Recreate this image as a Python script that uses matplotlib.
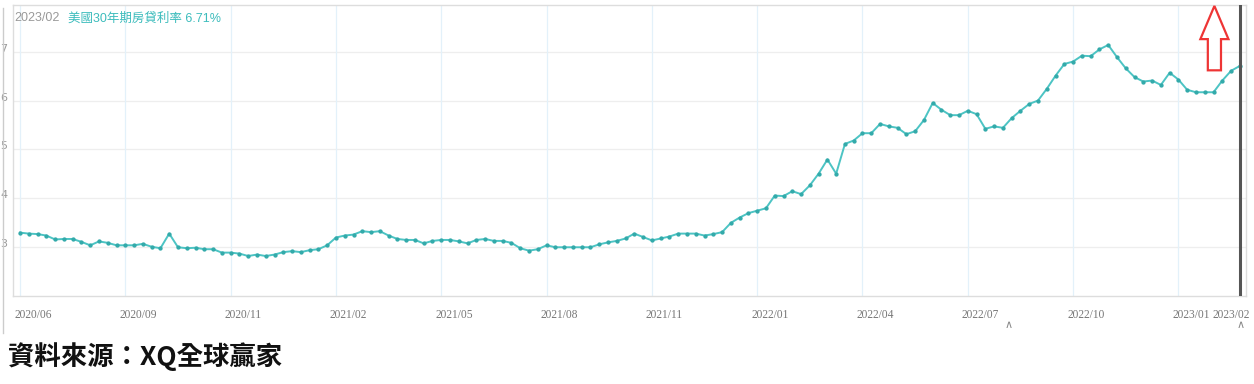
import numpy as np
import matplotlib.pyplot as plt
from matplotlib.patches import FancyArrow
from matplotlib.lines import Line2D
from matplotlib.transforms import ScaledTranslation

# weekly 30y mortgage rate (2020/06 .. 2023/02)
rates = [
    3.29, 3.27, 3.26, 3.23, 3.15, 3.16, 3.16, 3.10, 3.03, 3.11,
    3.08, 3.03, 3.03, 3.03, 3.06, 3.00, 2.97, 3.27, 2.99, 2.97,
    2.98, 2.95, 2.95, 2.88, 2.88, 2.86, 2.81, 2.84, 2.81, 2.84,
    2.89, 2.91, 2.89, 2.93, 2.95, 3.03, 3.19, 3.23, 3.25, 3.32,
    3.30, 3.32, 3.23, 3.16, 3.14, 3.14, 3.07, 3.12, 3.14, 3.14,
    3.11, 3.07, 3.14, 3.16, 3.12, 3.12, 3.08, 2.97, 2.92, 2.95,
    3.03, 2.99, 2.99, 2.99, 2.99, 2.99, 3.05, 3.09, 3.12, 3.17,
    3.27, 3.20, 3.13, 3.17, 3.21, 3.27, 3.27, 3.27, 3.23, 3.26,
    3.30, 3.49, 3.60, 3.69, 3.74, 3.79, 4.05, 4.04, 4.14, 4.08,
    4.26, 4.50, 4.79, 4.50, 5.11, 5.18, 5.33, 5.33, 5.52, 5.47,
    5.44, 5.31, 5.37, 5.60, 5.95, 5.81, 5.70, 5.70, 5.79, 5.72,
    5.42, 5.47, 5.44, 5.64, 5.79, 5.93, 6.00, 6.24, 6.51, 6.75,
    6.80, 6.92, 6.91, 7.05, 7.14, 6.89, 6.66, 6.48, 6.39, 6.41,
    6.32, 6.57, 6.43, 6.22, 6.17, 6.17, 6.17, 6.41, 6.61, 6.71,
]
tick_idx = [0, 12, 24, 36, 48, 60, 72, 84, 96, 108, 120, 132, 139]
tick_labels = ['2020/06', '2020/09', '2020/11', '2021/02', '2021/05', '2021/08',
               '2021/11', '2022/01', '2022/04', '2022/07', '2022/10', '2023/01',
               '2023/02']
y_ticks = [3, 4, 5, 6, 7]

TEAL = '#4cc4c4'
x = np.arange(len(rates))
last = len(rates) - 1

fig = plt.figure(figsize=(12.54, 3.84), dpi=100)
ax = fig.add_axes([13 / 1254, 1 - 296 / 384, 1233 / 1254, 291 / 384])

ax.plot(x, rates, color=TEAL, lw=1.4, marker='o', ms=2.1,
        mfc='#33aaaa', mec='#33aaaa', zorder=3)

ax.set_xlim(-0.8, 139.7)
ax.set_ylim(1.99, 7.96)

# grid
for v in y_ticks:
    ax.axhline(v, color='#eeeeee', lw=0.9, zorder=0)
for i in tick_idx[:-1]:
    ax.axvline(i, color='#e3f1fa', lw=0.9, zorder=0)

# cursor line at the latest point
ax.axvline(last, color='#555555', lw=2.2, zorder=4)

for s in ax.spines.values():
    s.set_color('#dddddd')
    s.set_linewidth(1.0)

ax.set_yticks(y_ticks)
ax.set_yticklabels([str(v) for v in y_ticks])
ax.tick_params(axis='y', length=0, pad=4, labelsize=8, labelcolor='#999999')
for lab in ax.get_yticklabels():
    lab.set_transform(lab.get_transform() + ScaledTranslation(0, 4 / 100, fig.dpi_scale_trans))

ax.set_xticks(tick_idx)
ax.set_xticklabels(tick_labels, family='Liberation Serif', fontsize=8.3)
ax.tick_params(axis='x', length=0, pad=9, labelcolor='#777777')
for k, lab in enumerate(ax.get_xticklabels()):
    if k == len(tick_labels) - 1:
        lab.set_ha('right')
        dx = 10
    else:
        lab.set_ha('left')
        dx = -6
    lab.set_transform(lab.get_transform() + ScaledTranslation(dx / 100, 0, fig.dpi_scale_trans))

# header text inside the plot
ax.text(0.0008, 0.975, '2023/02', transform=ax.transAxes, ha='left', va='top',
        fontsize=9, color='#999999', family=['Liberation Sans', 'Noto Sans CJK TC'])
ax.text(0.045, 0.975, '美國30年期房貸利率 6.71%', transform=ax.transAxes, ha='left', va='top',
        fontsize=9, color='#3cbcbc', family=['Liberation Sans', 'Noto Sans CJK TC'])

# red hollow arrow
arrow = FancyArrow(136.1, 6.62, 0, 1.32, width=1.5, head_width=3.2, head_length=0.68,
                   length_includes_head=True, facecolor='white', edgecolor='#ee3535',
                   lw=1.6, zorder=5)
ax.add_patch(arrow)

# small chevrons under the axis
for px in (1008, 1240):
    fig.text(px / 1254, 1 - 324 / 384, r'$\wedge$', ha='center', va='center',
             fontsize=8, color='#888888')

# faint outer frame line
fig.add_artist(Line2D([3 / 1254, 3 / 1254], [1 - 333 / 384, 1 - 8 / 384],
                      color='#cccccc', lw=1.0))

fig.text(8 / 1254, 1 - 357 / 384, '資料來源：XQ全球贏家', ha='left', va='center',
         fontsize=19, fontweight='bold', color='#111111',
         family=['Noto Sans CJK TC', 'DejaVu Sans'])

fig.savefig('out.png', dpi=100, facecolor='white')
